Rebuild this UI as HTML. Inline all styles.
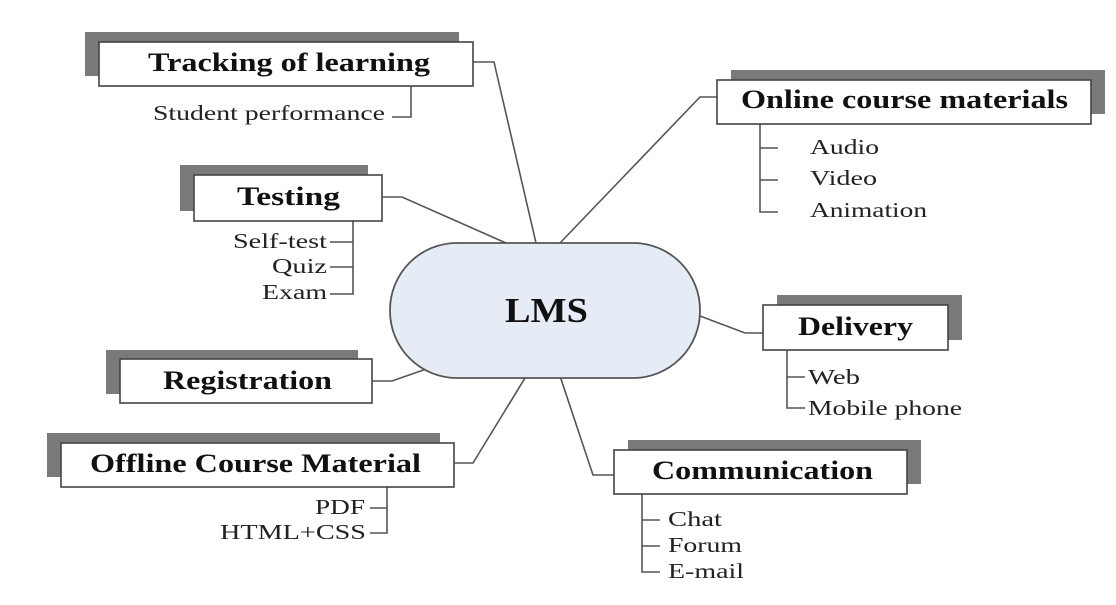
<!DOCTYPE html>
<html><head><meta charset="utf-8"><style>
html,body{margin:0;padding:0;background:#fff;}
svg{display:block;}
.t{font-family:"Liberation Serif",serif;font-weight:bold;font-size:26px;fill:#111;}
.s{font-family:"Liberation Serif",serif;font-size:21px;fill:#222;}
</style></head><body>
<svg width="1116" height="605" viewBox="0 0 1116 605" xmlns="http://www.w3.org/2000/svg">
<g fill="#7a7a7a">
<rect x="85" y="32" width="374" height="44"/>
<rect x="180" y="165" width="188" height="46"/>
<rect x="106" y="350" width="252" height="44"/>
<rect x="47" y="433" width="393" height="44"/>
<rect x="731" y="70" width="374" height="44"/>
<rect x="777" y="295" width="185" height="45"/>
<rect x="628" y="440" width="293" height="44"/>
</g>
<g fill="none" stroke="#555" stroke-width="1.6">
<polyline points="473,62 494,62 536,243"/>
<polyline points="382,197 402,197 506,243"/>
<polyline points="372,381 392,381 432,367"/>
<polyline points="454,463 473,463 525,378"/>
<polyline points="717,97 700,97 560,243"/>
<polyline points="700,316 745,333 763,333"/>
<polyline points="560,376 593,475 614,475"/>
<polyline points="411,86 411,117 392,117"/>
<polyline points="353,221 353,294 330,294"/>
<line x1="330" y1="242" x2="353" y2="242"/><line x1="330" y1="267" x2="353" y2="267"/>
<polyline points="387,487 387,533 370,533"/><line x1="370" y1="508" x2="387" y2="508"/>
<polyline points="760,124 760,212 778,212"/><line x1="760" y1="148" x2="778" y2="148"/><line x1="760" y1="180" x2="778" y2="180"/>
<polyline points="787,350 787,408 805,408"/><line x1="787" y1="377" x2="805" y2="377"/>
<polyline points="642,494 642,572 660,572"/><line x1="642" y1="520" x2="660" y2="520"/><line x1="642" y1="546" x2="660" y2="546"/>
</g>
<rect x="390" y="243" width="310" height="135" rx="67" ry="67" fill="#e6ecf6" stroke="#555" stroke-width="1.8"/>
<text x="505" y="322" textLength="83" lengthAdjust="spacingAndGlyphs" font-family="Liberation Serif,serif" font-weight="bold" font-size="35" fill="#111">LMS</text>
<g fill="#fff" stroke="#444" stroke-width="1.6">
<rect x="99" y="42" width="374" height="44"/>
<rect x="194" y="175" width="188" height="46"/>
<rect x="120" y="359" width="252" height="44"/>
<rect x="61" y="443" width="393" height="44"/>
<rect x="717" y="80" width="374" height="44"/>
<rect x="763" y="305" width="185" height="45"/>
<rect x="614" y="450" width="293" height="44"/>
</g>
<g class="t">
<text x="148" y="71" textLength="282" lengthAdjust="spacingAndGlyphs">Tracking of learning</text>
<text x="237" y="205" textLength="103" lengthAdjust="spacingAndGlyphs">Testing</text>
<text x="163" y="389" textLength="169" lengthAdjust="spacingAndGlyphs">Registration</text>
<text x="90" y="472" textLength="331" lengthAdjust="spacingAndGlyphs">Offline Course Material</text>
<text x="741" y="108" textLength="327" lengthAdjust="spacingAndGlyphs">Online course materials</text>
<text x="798" y="335" textLength="115" lengthAdjust="spacingAndGlyphs">Delivery</text>
<text x="652" y="479" textLength="221" lengthAdjust="spacingAndGlyphs">Communication</text>
</g>
<g class="s">
<text x="153" y="120" textLength="232" lengthAdjust="spacingAndGlyphs">Student performance</text>
<text x="233" y="248" textLength="94" lengthAdjust="spacingAndGlyphs">Self-test</text>
<text x="272" y="273" textLength="55" lengthAdjust="spacingAndGlyphs">Quiz</text>
<text x="262" y="299" textLength="65" lengthAdjust="spacingAndGlyphs">Exam</text>
<text x="315" y="514" textLength="50" lengthAdjust="spacingAndGlyphs">PDF</text>
<text x="220" y="539" textLength="146" lengthAdjust="spacingAndGlyphs">HTML+CSS</text>
<text x="810" y="154" textLength="69" lengthAdjust="spacingAndGlyphs">Audio</text>
<text x="810" y="185" textLength="67" lengthAdjust="spacingAndGlyphs">Video</text>
<text x="810" y="217" textLength="117" lengthAdjust="spacingAndGlyphs">Animation</text>
<text x="808" y="384" textLength="52" lengthAdjust="spacingAndGlyphs">Web</text>
<text x="808" y="415" textLength="154" lengthAdjust="spacingAndGlyphs">Mobile phone</text>
<text x="668" y="526" textLength="54" lengthAdjust="spacingAndGlyphs">Chat</text>
<text x="668" y="552" textLength="74" lengthAdjust="spacingAndGlyphs">Forum</text>
<text x="668" y="578" textLength="76" lengthAdjust="spacingAndGlyphs">E-mail</text>
</g>
</svg>
</body></html>
